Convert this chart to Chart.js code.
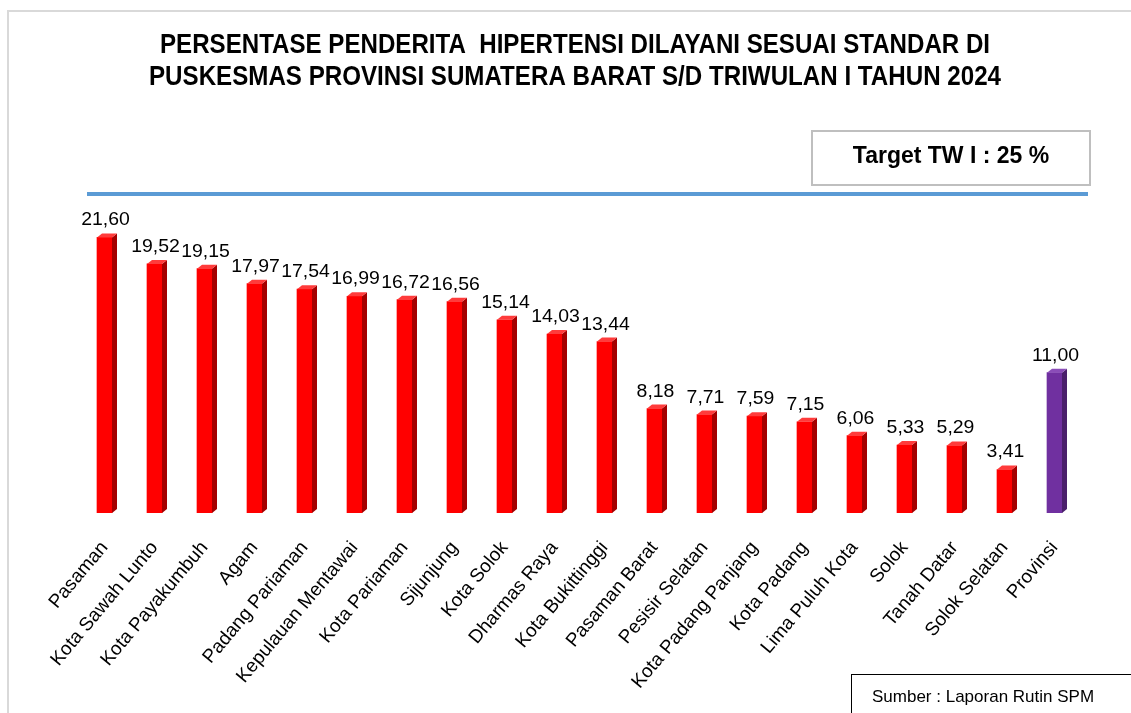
<!DOCTYPE html>
<html>
<head>
<meta charset="utf-8">
<script src="https://cdn.jsdelivr.net/npm/chart.js@4.4.1/dist/chart.umd.min.js"></script>
<style>
  html, body { margin: 0; padding: 0; background: #fff; }
  #wrap { width: 1131px; height: 713px; }
</style>
</head>
<body>
<div id="wrap"><canvas id="myChart" width="1131" height="713"></canvas></div>
<script>
// data
var categories = ["Pasaman", "Kota Sawah Lunto", "Kota Payakumbuh", "Agam", "Padang Pariaman",
  "Kepulauan Mentawai", "Kota Pariaman", "Sijunjung", "Kota Solok", "Dharmas Raya",
  "Kota Bukittinggi", "Pasaman Barat", "Pesisir Selatan", "Kota Padang Panjang", "Kota Padang",
  "Lima Puluh Kota", "Solok", "Tanah Datar", "Solok Selatan", "Provinsi"];
var values = [21.60, 19.52, 19.15, 17.97, 17.54, 16.99, 16.72, 16.56, 15.14, 14.03,
  13.44, 8.18, 7.71, 7.59, 7.15, 6.06, 5.33, 5.29, 3.41, 11.00];
var target = 25;
var titleLines = ["PERSENTASE PENDERITA  HIPERTENSI DILAYANI SESUAI STANDAR DI",
  "PUSKESMAS PROVINSI SUMATERA BARAT S/D TRIWULAN I TAHUN 2024"];
var targetText = "Target TW I : 25 %";
var sourceText = "Sumber : Laporan Rutin SPM";

// warna: bar terakhir (Provinsi) ungu
var frontColors = [], sideColors = [], topColors = [];
for (var i = 0; i < categories.length; i++) {
  var isProv = categories[i] == "Provinsi";
  frontColors.push(isProv ? "#7030a0" : "#ff0000");
  sideColors.push(isProv ? "#4a1f6b" : "#a50000");
  topColors.push(isProv ? "#8a4cb8" : "#ff3b3b");
}

var FONT = "'Liberation Sans', Arial, sans-serif";

// efek 3D + label nilai
var bar3d = {
  id: "bar3d",
  afterDatasetsDraw: function(chart) {
    var ctx = chart.ctx;
    var meta = chart.getDatasetMeta(0);
    var dx = 5, dy = 4;
    ctx.save();
    meta.data.forEach(function(bar, i) {
      var p = bar.getProps(["x", "y", "base", "width"], true);
      var l = p.x - p.width / 2, r = p.x + p.width / 2;
      // sisi kanan
      ctx.fillStyle = sideColors[i];
      ctx.beginPath();
      ctx.moveTo(r, p.y);
      ctx.lineTo(r + dx, p.y - dy);
      ctx.lineTo(r + dx, p.base - dy);
      ctx.lineTo(r, p.base);
      ctx.closePath();
      ctx.fill();
      // atas
      ctx.fillStyle = topColors[i];
      ctx.beginPath();
      ctx.moveTo(l, p.y);
      ctx.lineTo(l + dx, p.y - dy);
      ctx.lineTo(r + dx, p.y - dy);
      ctx.lineTo(r, p.y);
      ctx.closePath();
      ctx.fill();
      // label nilai
      ctx.fillStyle = "#000";
      ctx.font = "18px " + FONT;
      ctx.textAlign = "center";
      ctx.textBaseline = "alphabetic";
      var txt = values[i].toFixed(2).replace(".", ",");
      ctx.save();
      ctx.translate(p.x + 1, p.y - 12);
      ctx.scale(1.08, 1.05);
      ctx.fillText(txt, 0, 0);
      ctx.restore();
    });
    ctx.restore();
  }
};

// judul, garis target, kotak
var decor = {
  id: "decor",
  beforeDraw: function(chart) {
    var ctx = chart.ctx;
    ctx.save();
    ctx.fillStyle = "#fff";
    ctx.fillRect(0, 0, chart.width, chart.height);
    // bingkai luar
    ctx.strokeStyle = "#d9d9d9";
    ctx.lineWidth = 2;
    ctx.beginPath();
    ctx.moveTo(8, 713);
    ctx.lineTo(8, 11);
    ctx.lineTo(1131, 11);
    ctx.stroke();
    ctx.restore();
  },
  afterDraw: function(chart) {
    var ctx = chart.ctx;
    var y25 = chart.scales.y.getPixelForValue(target);
    ctx.save();
    // judul (huruf dipadatkan)
    ctx.fillStyle = "#000";
    ctx.font = "bold 28px " + FONT;
    ctx.textAlign = "center";
    ctx.textBaseline = "middle";
    var widths = [830, 852];
    var ys = [45, 77];
    for (var k = 0; k < titleLines.length; k++) {
      var w = ctx.measureText(titleLines[k]).width;
      ctx.save();
      ctx.translate(575, ys[k]);
      ctx.scale(widths[k] / w, 1);
      ctx.fillText(titleLines[k], 0, 0);
      ctx.restore();
    }
    // kotak target
    ctx.strokeStyle = "#bfbfbf";
    ctx.lineWidth = 2;
    ctx.strokeRect(812, 131, 278, 54);
    ctx.font = "bold 23px " + FONT;
    ctx.fillText(targetText, 951, 157);
    // garis target
    ctx.strokeStyle = "#5b9bd5";
    ctx.lineWidth = 4;
    ctx.beginPath();
    ctx.moveTo(87, y25);
    ctx.lineTo(1088, y25);
    ctx.stroke();
    // kotak sumber
    ctx.strokeStyle = "#000";
    ctx.lineWidth = 1;
    ctx.strokeRect(851.5, 674.5, 300, 40);
    ctx.font = "17px " + FONT;
    ctx.textAlign = "left";
    ctx.textBaseline = "alphabetic";
    ctx.fillText(sourceText, 872, 702);
    ctx.restore();
  }
};

var ctx = document.getElementById("myChart").getContext("2d");
var myChart = new Chart(ctx, {
  type: "bar",
  data: {
    labels: categories,
    datasets: [{
      data: values,
      backgroundColor: frontColors,
      borderWidth: 0,
      barThickness: 15
    }]
  },
  options: {
    responsive: false,
    animation: false,
    devicePixelRatio: 1,
    layout: { padding: { left: 79.5, right: 51.5, top: 194, bottom: 0 } },
    plugins: {
      legend: { display: false },
      tooltip: { enabled: false }
    },
    scales: {
      x: {
        grid: { display: false },
        border: { display: false },
        ticks: {
          minRotation: 50,
          maxRotation: 50,
          padding: 16,
          color: "#000",
          font: { family: FONT, size: 19 }
        },
        afterFit: function(scale) { scale.height = 200; }
      },
      y: {
        display: false,
        min: 0,
        max: 25
      }
    }
  },
  plugins: [decor, bar3d]
});
</script>
</body>
</html>
